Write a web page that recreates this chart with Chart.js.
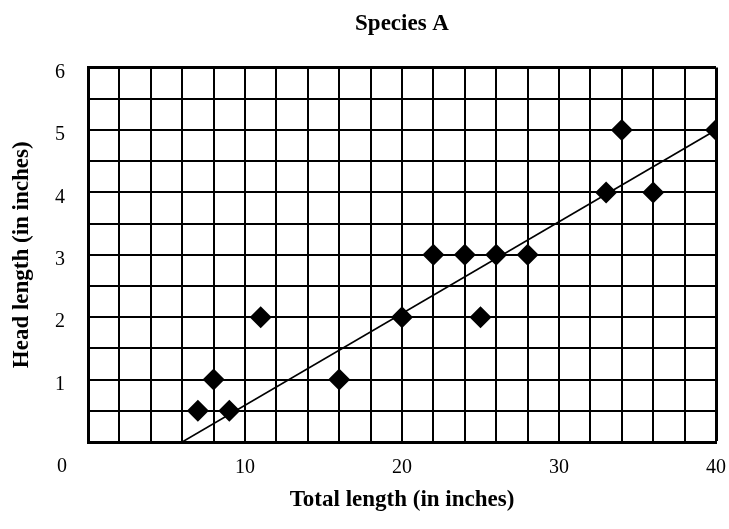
<!DOCTYPE html>
<html>
<head>
<meta charset="utf-8">
<script src="https://cdn.jsdelivr.net/npm/chart.js@4.4.0/dist/chart.umd.min.js"></script>
<style>
  html, body { margin: 0; padding: 0; background: #fff; }
  #wrap { width: 729px; height: 529px; }
</style>
</head>
<body>
<div id="wrap"><canvas id="c" width="729" height="529"></canvas></div>
<script>
// ---- data ----
const totalLength = [7, 8, 9, 11, 16, 20, 22, 24, 25, 26, 28, 33, 34, 36, 40];
const headLength  = [0.5, 1, 0.5, 2, 1, 2, 3, 3, 2, 3, 3, 4, 5, 4, 5];
const trendX = [6, 40];
const trendY = [0, 5];
const xTickLabels = [10, 20, 30, 40];
const yTickLabels = [1, 2, 3, 4, 5, 6];
const originLabel = '0';

const SERIF = '"Liberation Serif", "Times New Roman", serif';

const points = totalLength.map((x, i) => ({ x: x, y: headLength[i] }));
const trend = trendX.map((x, i) => ({ x: x, y: trendY[i] }));

const originPlugin = {
  id: 'originLabel',
  afterDraw(chart) {
    const ctx = chart.ctx;
    const a = chart.chartArea;
    ctx.save();
    ctx.font = '20px ' + SERIF;
    ctx.fillStyle = '#000';
    ctx.textAlign = 'center';
    ctx.textBaseline = 'middle';
    ctx.fillText(originLabel, a.left - 26, a.bottom + 25);
    ctx.restore();
  }
};

const bgPlugin = {
  id: 'bg',
  beforeDraw(chart) {
    const ctx = chart.ctx;
    ctx.save();
    ctx.fillStyle = '#fff';
    ctx.fillRect(0, 0, chart.width, chart.height);
    ctx.restore();
  }
};

new Chart(document.getElementById('c'), {
  type: 'scatter',
  data: {
    datasets: [
      {
        type: 'scatter',
        data: points,
        pointStyle: 'rectRot',
        pointRadius: 11,
        pointHoverRadius: 11,
        backgroundColor: '#000',
        borderColor: '#000',
        borderWidth: 0,
        order: 1
      },
      {
        type: 'line',
        data: trend,
        borderColor: '#000',
        borderWidth: 1.6,
        pointRadius: 0,
        fill: false,
        order: 2
      }
    ]
  },
  options: {
    responsive: false,
    animation: false,
    events: [],
    layout: { padding: { left: 0, right: 13, top: 0, bottom: 0 } },
    plugins: {
      legend: { display: false },
      tooltip: { enabled: false },
      title: {
        display: true,
        text: 'Species A',
        color: '#000',
        fullSize: false,
        font: { family: SERIF, size: 23, weight: 'bold' },
        padding: { top: 10, bottom: 30 }
      }
    },
    scales: {
      x: {
        type: 'linear',
        min: 0,
        max: 40,
        afterFit(scale) {
          scale.height = 87;
          scale.paddingLeft = 0;
          scale.paddingRight = 0;
        },
        border: { display: true, color: '#000', width: 3 },
        grid: {
          color: '#000',
          lineWidth: (c) => (c.tick && c.tick.value === 40 ? 3 : 2),
          drawTicks: false
        },
        ticks: {
          stepSize: 2,
          autoSkip: false,
          maxRotation: 0,
          padding: 14,
          color: '#000',
          font: { family: SERIF, size: 20 },
          callback: (v) => (xTickLabels.includes(v) ? String(v) : '')
        },
        title: {
          display: true,
          text: 'Total length (in inches)',
          color: '#000',
          font: { family: SERIF, size: 23, weight: 'bold' },
          padding: 15
        }
      },
      y: {
        type: 'linear',
        min: 0,
        max: 6,
        afterFit(scale) { scale.width = 88; },
        border: { display: true, color: '#000', width: 3 },
        grid: {
          color: '#000',
          lineWidth: (c) => (c.tick && c.tick.value === 6 ? 3 : 2),
          drawTicks: false
        },
        ticks: {
          stepSize: 0.5,
          autoSkip: false,
          padding: 23,
          labelOffset: 5,
          color: '#000',
          font: { family: SERIF, size: 20 },
          callback: (v) => (yTickLabels.includes(v) ? String(v) : '')
        },
        title: {
          display: true,
          text: 'Head length (in inches)',
          color: '#000',
          font: { family: SERIF, size: 23, weight: 'bold' },
          padding: 8
        }
      }
    }
  },
  plugins: [bgPlugin, originPlugin]
});
</script>
</body>
</html>
